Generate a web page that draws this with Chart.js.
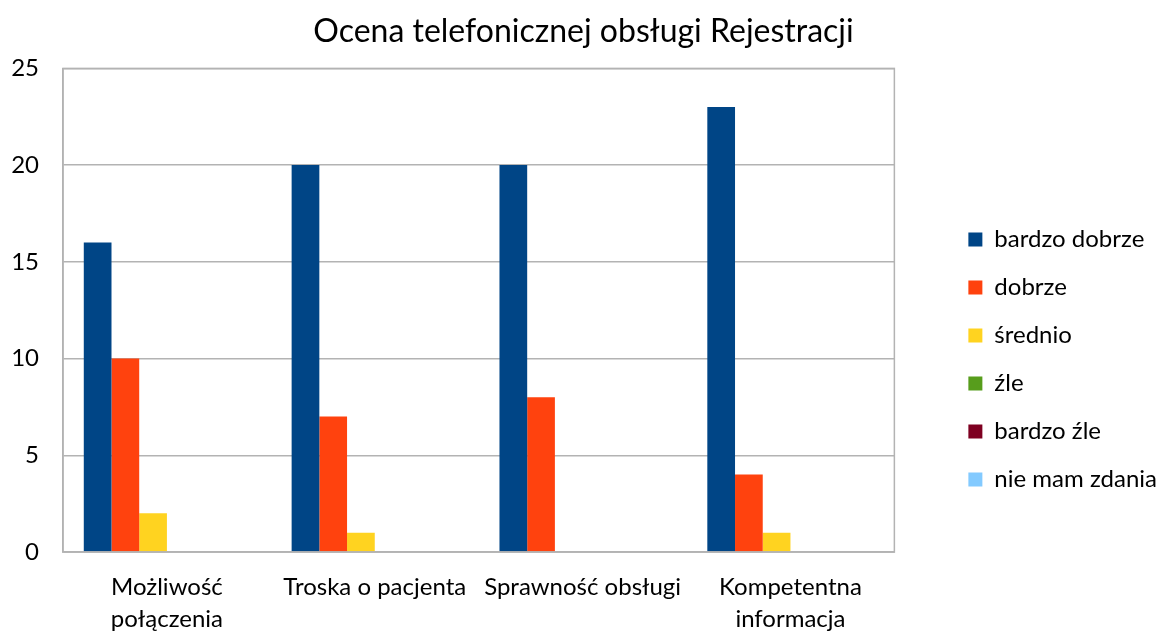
<!DOCTYPE html>
<html><head><meta charset="utf-8">
<script src="https://cdn.jsdelivr.net/npm/chart.js@4"></script>
<style>html,body{margin:0;padding:0;background:#fff}#w{width:1165px;height:631px}</style>
</head><body><div id="w"><canvas id="c" width="1165" height="631"></canvas></div>
<script>
const categories = [["Możliwość","połączenia"],"Troska o pacjenta","Sprawność obsługi",["Kompetentna","informacja"]];
const seriesNames = ["bardzo dobrze","dobrze","średnio","źle","bardzo źle","nie mam zdania"];
const bardzoDobrze = [16,20,20,23];
const dobrze = [10,7,8,4];
const srednio = [2,1,0,1];
const zle = [0,0,0,0];
const bardzoZle = [0,0,0,0];
const nieMamZdania = [0,0,0,0];
const yTicks = [0,5,10,15,20,25];
const colors = ["#004586","#ff420e","#ffd320","#579d1c","#7e0021","#83caff"];
const values = [bardzoDobrze,dobrze,srednio,zle,bardzoZle,nieMamZdania];
const FONT = "Lato, 'Open Sans', sans-serif";
Chart.defaults.font.family = FONT;
Chart.defaults.color = "#000";
const LEGEND_GAP = 50;
const LEGEND_DOWN = 40;
const borderPlugin = {id:'border',
 beforeLayout(ch){const lg=ch.legend;if(lg&&!lg._wrapped){const f=lg.fit;lg.fit=function(){f.call(this);this.width+=LEGEND_GAP;};lg._wrapped=true;}},
 afterLayout(ch){const lg=ch.legend;if(lg){lg.left+=LEGEND_GAP;lg.right+=LEGEND_GAP;lg.top+=LEGEND_DOWN;lg.bottom+=LEGEND_DOWN;}},
 afterDatasetsDraw(ch){const a=ch.chartArea,c=ch.ctx;c.save();c.strokeStyle='#b3b3b3';c.lineWidth=1.5;c.strokeRect(a.left,a.top,a.right-a.left,a.bottom-a.top);c.restore();}};
new Chart(document.getElementById('c'),{
 type:'bar',
 data:{labels:categories,datasets:seriesNames.map((n,i)=>({label:n,data:values[i],backgroundColor:colors[i],borderWidth:0,barPercentage:1.0,categoryPercentage:0.8}))},
 options:{responsive:false,animation:false,
  layout:{padding:{left:0,right:-2,top:8,bottom:0}},
  plugins:{
   title:{display:true,text:"Ocena telefonicznej obsługi Rejestracji",font:{size:32,weight:'normal'},color:'#000',padding:{top:4,bottom:18}},
   legend:{position:'right',align:'center',labels:{boxWidth:14,boxHeight:14,padding:24,font:{size:24},color:'#000'}},
   tooltip:{enabled:false}
  },
  scales:{
   x:{afterFit(s){s.height=79;},grid:{display:false,drawTicks:false},border:{color:'#b3b3b3',width:1.5},ticks:{font:{size:24,lineHeight:1.33},padding:19,maxRotation:0,autoSkip:false,color:'#000'}},
   y:{min:0,max:25,afterFit(s){s.width=63;},afterBuildTicks(s){s.ticks=yTicks.map(v=>({value:v}));},grid:{color:'#b3b3b3',lineWidth:1.5,drawTicks:false},border:{color:'#b3b3b3',width:1.5},ticks:{font:{size:24},padding:24,color:'#000'}}
  }
 },
 plugins:[borderPlugin]
});
</script></body></html>
